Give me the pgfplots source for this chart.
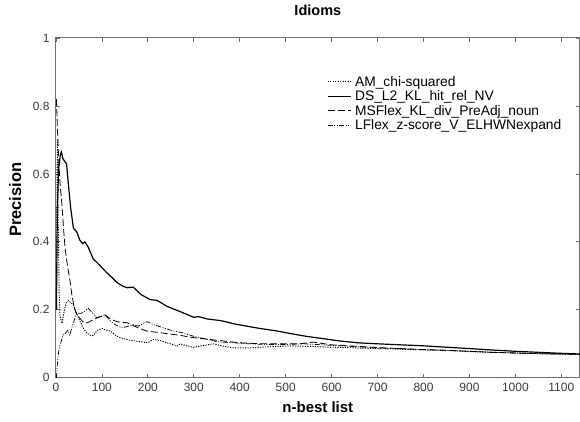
\documentclass[border=0pt]{standalone}
\usepackage{pgfplots}
\pgfplotsset{compat=1.18}
\usepackage{fontspec}
\setmainfont{Liberation Sans}
\definecolor{axgray}{HTML}{6E6E6E}
\definecolor{lblgray}{HTML}{3A3A3A}
\pgfplotstableread{
n y
1 0.2
3 0.5
6 0.62
10 0.66
12 0.665
15 0.645
20 0.635
23 0.63
27 0.57
32 0.5
38 0.44
45 0.43
52 0.405
58 0.395
63 0.40
70 0.385
81 0.35
96 0.33
110 0.31
122 0.295
133 0.28
145 0.27
155 0.265
168 0.267
185 0.245
205 0.23
220 0.228
242 0.21
270 0.195
300 0.178
310 0.18
330 0.173
360 0.168
387 0.159
415 0.152
445 0.145
480 0.138
511 0.13
545 0.122
583 0.115
620 0.108
657 0.103
700 0.1
750 0.097
802 0.094
850 0.09
900 0.086
947 0.082
1000 0.078
1050 0.075
1100 0.072
1140 0.07
}\dsdata
\pgfplotstableread{
n y
1 0.82
3 0.74
6 0.64
9 0.57
13 0.51
17 0.43
20 0.38
25 0.33
30 0.29
35 0.24
41 0.2
46 0.185
52 0.175
60 0.163
68 0.162
80 0.17
95 0.18
107 0.185
120 0.172
133 0.165
155 0.162
177 0.148
199 0.137
213 0.135
242 0.13
270 0.125
300 0.118
340 0.112
400 0.103
450 0.1
500 0.1
530 0.1
560 0.105
600 0.097
650 0.093
700 0.089
750 0.086
800 0.083
850 0.081
900 0.078
950 0.075
1000 0.073
1050 0.071
1100 0.07
1140 0.069
}\msdata
\pgfplotstableread{
n y
1 0.25
3 0.7
5 0.45
7 0.25
9 0.18
13 0.16
17 0.19
22 0.22
27 0.227
33 0.22
38 0.215
45 0.19
52 0.168
60 0.145
67 0.132
75 0.125
81 0.124
90 0.14
100 0.145
110 0.14
118 0.138
130 0.125
140 0.118
155 0.112
168 0.109
185 0.106
199 0.103
212 0.113
225 0.11
242 0.103
264 0.094
271 0.1
285 0.094
300 0.09
320 0.095
343 0.1
365 0.093
387 0.088
420 0.088
445 0.09
480 0.092
511 0.094
560 0.092
600 0.09
650 0.088
700 0.086
750 0.084
800 0.082
850 0.08
900 0.077
950 0.075
1000 0.073
1050 0.071
1100 0.07
1140 0.069
}\amdata
\pgfplotstableread{
n y
1 0
3 0.04
6 0.08
10 0.1
15 0.125
20 0.13
26 0.14
30 0.125
35 0.15
40 0.17
45 0.19
55 0.19
62 0.195
70 0.205
80 0.19
89 0.176
98 0.18
107 0.185
118 0.168
129 0.156
144 0.147
158 0.152
168 0.156
180 0.152
190 0.16
199 0.165
212 0.157
227 0.15
250 0.14
277 0.132
300 0.122
314 0.118
351 0.106
387 0.103
420 0.1
460 0.098
500 0.098
540 0.1
580 0.097
620 0.094
660 0.091
700 0.088
750 0.086
800 0.083
850 0.081
900 0.078
950 0.075
1000 0.073
1050 0.071
1100 0.07
1140 0.069
}\lfdata
\begin{document}
\begin{tikzpicture}
\begin{axis}[
  scale only axis, width=524pt, height=340pt,
  xmin=0, xmax=1140, ymin=0, ymax=1,
  xtick={0,100,200,300,400,500,600,700,800,900,1000,1100},
  ytick={0,0.2,0.4,0.6,0.8,1},
  yticklabels={0,0.2,0.4,0.6,0.8,1},
  scaled x ticks=false,
  /pgf/number format/assume math mode=true,
  /pgf/number format/set thousands separator={},
  tick align=inside, major tick length=4pt,
  tick style={axgray, line width=0.8pt},
  axis line style={axgray, line width=1pt},
  ticklabel style={font=\fontsize{12}{14}\selectfont, text=lblgray},
  xticklabel style={yshift=-2pt},
  yticklabel style={xshift=-3pt},
  title={Idioms},
  title style={font=\bfseries\fontsize{14.5}{16}\selectfont, at={(0.5,1)}, anchor=south, yshift=13pt},
  xlabel={n-best list},
  ylabel={Precision},
  xlabel style={font=\bfseries\fontsize{15}{17}\selectfont, at={(axis description cs:0.5,-0.085)}, anchor=center},
  ylabel style={font=\bfseries\fontsize{16.5}{18}\selectfont, at={(axis description cs:-0.078,0.524)}, anchor=center},
  legend style={at={(0.517,0.89)}, anchor=north west, draw=none, fill=none,
    font=\fontsize{13.8}{15}\selectfont, row sep=2pt, inner sep=0pt, nodes={inner xsep=4pt, inner ysep=0.5pt}},
  legend cell align=left,
  legend image code/.code={\draw[#1] (0pt,0pt) -- (23pt,0pt);},
]
\addplot[black, line width=0.9pt, dash pattern=on 1.2pt off 1.3pt] table[x=n,y=y] {\amdata};
\addlegendentry{AM\_chi-squared}
\addplot[black, line width=1.2pt] table[x=n,y=y] {\dsdata};
\addlegendentry{DS\_L2\_KL\_hit\_rel\_NV}
\addplot[black, line width=0.8pt, dash pattern=on 7pt off 3pt] table[x=n,y=y] {\msdata};
\addlegendentry{MSFlex\_KL\_div\_PreAdj\_noun}
\addplot[black, line width=0.7pt, dash pattern=on 5pt off 1.5pt on 1pt off 1.5pt on 1pt off 1.5pt] table[x=n,y=y] {\lfdata};
\addlegendentry{LFlex\_z-score\_V\_ELHWNexpand}
\end{axis}
\path (current axis.south west) ++(-56pt,-44pt) coordinate (bl);
\path (current axis.north east) ++(0.3pt,38pt) coordinate (tr);
\pgfresetboundingbox
\useasboundingbox (bl) rectangle (tr);
\end{tikzpicture}
\end{document}
